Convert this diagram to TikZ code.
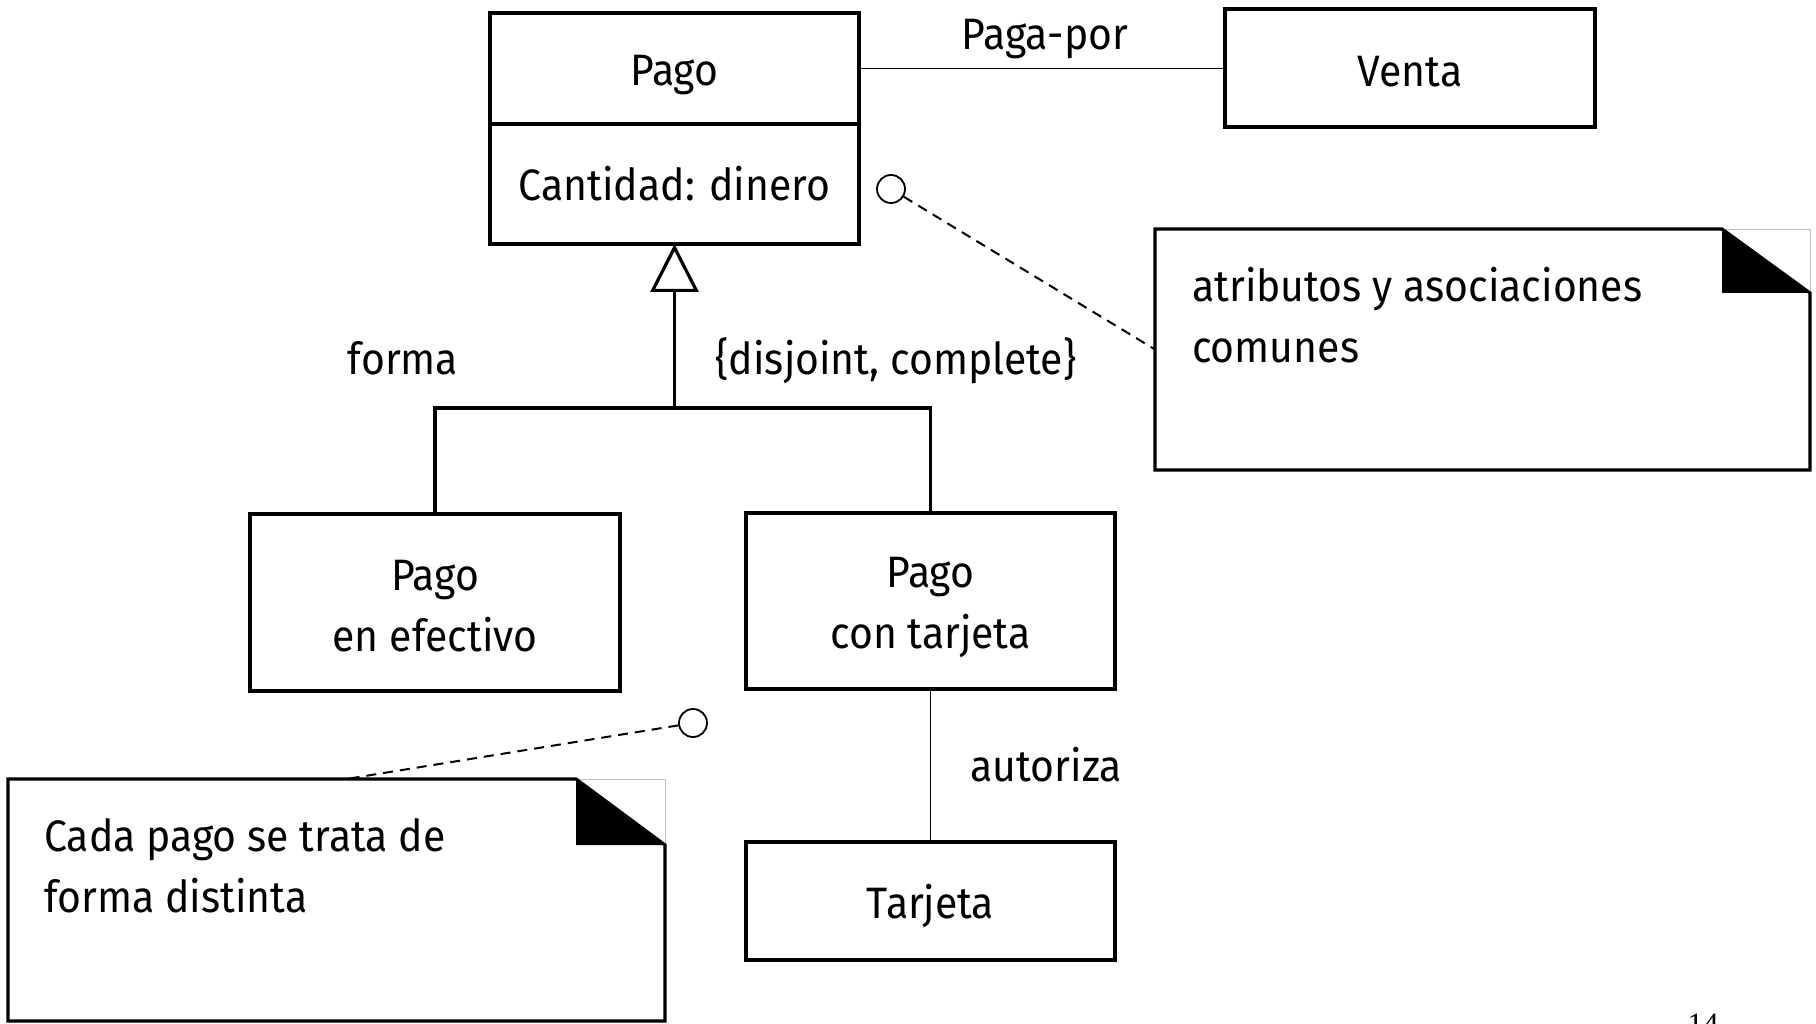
\documentclass[tikz,border=0pt]{standalone}
\usepackage{fontspec}
\setmainfont{Fira Sans}[FakeStretch=0.93]
\newfontfamily\pnfont{Liberation Serif}
\usetikzlibrary{arrows.meta}
\begin{document}
\begin{tikzpicture}[x=1pt,y=-1pt,
  every node/.style={font=\fontsize{44}{61}\selectfont},
  cls/.style={draw, line width=3.2pt, inner sep=0pt, outer sep=0pt},
  lbl/.style={inner sep=0pt, align=center},
  thinline/.style={line width=1.4pt},
  thickline/.style={line width=3.2pt},
  dashline/.style={line width=2pt, dash pattern=on 10pt off 7pt},
  knob/.style={draw, circle, minimum size=28pt, line width=1.8pt, inner sep=0pt, fill=white},
  notearea/.style={inner sep=0pt, outer sep=0pt}]
\useasboundingbox (0,0) rectangle (1816,1024);
\fill[white] (0,0) rectangle (1816,1024);

% classes
\node[cls, minimum width=369pt, minimum height=111pt] (pagoN) at (674.5,68.5) {};
\node[lbl] (pagoNt) at ([yshift=-7pt]pagoN.center) {Pago};
\node[cls, minimum width=369pt, minimum height=120pt] (pagoA) at (674.5,184) {};
\node[lbl] (pagoAt) at (pagoA.center) {Cantidad: dinero};
\node[cls, minimum width=370pt, minimum height=118pt] (venta) at (1410,68) {};
\node[lbl] (ventat) at ([yshift=-4pt]venta.center) {Venta};
\node[cls, minimum width=370pt, minimum height=177pt] (efectivo) at (435,602.5) {};
\node[lbl] (efectivot) at ([yshift=-4pt]efectivo.center) {Pago\\en efectivo};
\node[cls, minimum width=369pt, minimum height=176pt] (tarjetaP) at (930.5,601) {};
\node[lbl] (tarjetaPt) at ([yshift=-7pt]tarjetaP.center) {Pago\\con tarjeta};
\node[cls, minimum width=369pt, minimum height=118pt] (tarjeta) at (930.5,901) {};
\node[lbl] (tarjetat) at ([yshift=-5pt]tarjeta.center) {Tarjeta};

% association Paga-por
\draw[thinline] (pagoN.east) -- (pagoN.east -| venta.west);
\node[lbl] (pagapor) at (1045,39) {Paga-por};

% generalization
\coordinate (jn) at (674.5,408);
\draw[thickline] (efectivo.north) |- (jn) -| (tarjetaP.north);
\draw[thickline, -{Triangle[open, length=48pt, width=48pt, line width=3.2pt]}] (jn) -- (pagoA.south);
\node[lbl] (forma) at (403,358) {forma};
\node[lbl] (constr) at (896,361) {\{disjoint, complete\}};

% autoriza
\draw[thinline] (tarjetaP.south) -- (tarjeta.north);
\node[lbl] (autoriza) at (1046,765) {autoriza};

% note 1
\node[notearea, minimum width=655pt, minimum height=241pt] (note1) at (1482.5,349.5) {};
\draw[gray!50, line width=0.6pt] ([xshift=-88pt]note1.north east) -- (note1.north east) -- ([yshift=-64pt]note1.north east);
\draw[thickline, line join=miter] (note1.north west) -- ([xshift=-88pt]note1.north east) -- ([yshift=-64pt]note1.north east) -- (note1.south east) -- (note1.south west) -- cycle;
\fill ([xshift=-88pt]note1.north east) -- ([xshift=-88pt,yshift=-64pt]note1.north east) -- ([yshift=-64pt]note1.north east) -- cycle;
\node[lbl, anchor=west, align=left] (note1text) at (1192,315.5) {atributos y asociaciones\\comunes};
\node[knob] (c1) at (891,189) {};
\draw[dashline] (c1) -- (note1.west);

% note 2
\node[notearea, minimum width=657pt, minimum height=242pt] (note2) at (336.5,900) {};
\draw[gray!50, line width=0.6pt] ([xshift=-89pt]note2.north east) -- (note2.north east) -- ([yshift=-66pt]note2.north east);
\draw[thickline, line join=miter] (note2.north west) -- ([xshift=-89pt]note2.north east) -- ([yshift=-66pt]note2.north east) -- (note2.south east) -- (note2.south west) -- cycle;
\fill ([xshift=-89pt]note2.north east) -- ([xshift=-89pt,yshift=-66pt]note2.north east) -- ([yshift=-66pt]note2.north east) -- cycle;
\node[lbl, anchor=west, align=left] (note2text) at (44,865.5) {Cada pago se trata de\\forma distinta};
\node[knob] (c2) at (693,723) {};
\draw[dashline] (c2) -- ([xshift=10pt]note2.north);

% page number (cut off at the lower edge, as in the source)
\node[lbl, anchor=north, font=\fontsize{31}{36}\pnfont] (pnum) at (1703,1014) {14};
\end{tikzpicture}
\end{document}
